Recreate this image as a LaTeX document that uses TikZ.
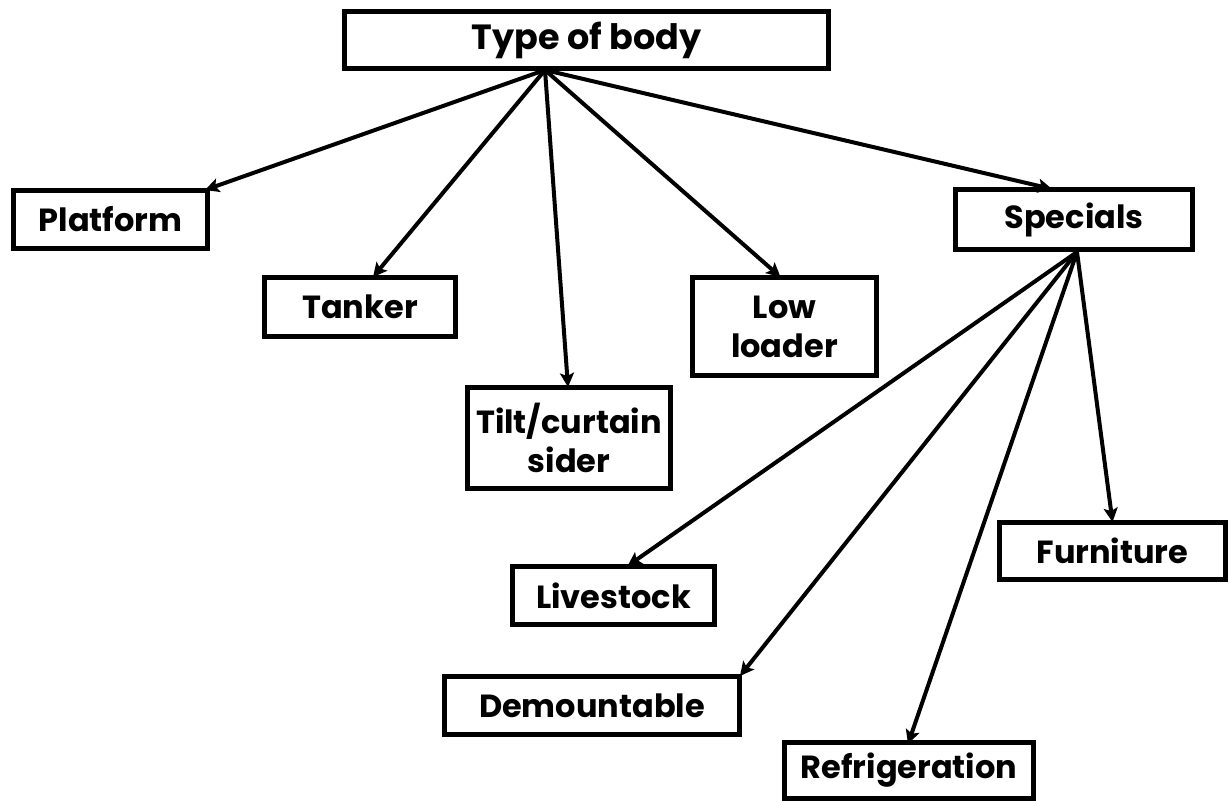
\documentclass[tikz,border=0pt]{standalone}
\usepackage{fontspec}
\setmainfont{Poppins}
\usetikzlibrary{arrows.meta}
\begin{document}
\begin{tikzpicture}[x=1pt,y=-1pt,
  box/.style={draw=black,line width=5pt,fill=white,inner sep=0pt,
    font=\fontsize{32}{39}\selectfont\bfseries,align=center},
  conn/.style={line width=4pt,-{Stealth[length=14pt,width=14pt,inset=3pt]}}]
\useasboundingbox (0,0) rectangle (1230,801);
\node[box,minimum width=484pt,minimum height=57pt,font=\fontsize{35}{40}\selectfont\bfseries] (top) at (586.5,40) {Type of body};
\node[box,minimum width=194pt,minimum height=58pt] (plat) at (110.5,219.5) {Platform};
\node[box,minimum width=191pt,minimum height=59pt] (tank) at (360,307) {Tanker};
\node[box,minimum width=203pt,minimum height=101pt] (tilt) at (569,438) {Tilt/curtain\\sider};
\node[box,minimum width=184pt,minimum height=98pt] (low) at (784.5,326.5) {Low\\loader};
\node[box,minimum width=237pt,minimum height=60pt] (spec) at (1074,219.5) {Specials};
\node[box,minimum width=226pt,minimum height=57pt] (furn) at (1112.5,551) {Furniture};
\node[box,minimum width=202pt,minimum height=58pt] (live) at (613.5,595.5) {Livestock};
\node[box,minimum width=295pt,minimum height=58pt] (demo) at (592,705.5) {Demountable};
\node[box,minimum width=249pt,minimum height=56pt] (refr) at (909,770.5) {Refrigeration};
\coordinate (s1) at (545,70);
\coordinate (s2) at (1077,252);
\draw[conn] (s1) -- ([xshift=-5pt,yshift=-2pt]plat.north east);
\draw[conn] (s1) -- ([xshift=13pt,yshift=-2pt]tank.north);
\draw[conn] (s1) -- ([xshift=-1pt,yshift=-2pt]tilt.north);
\draw[conn] (s1) -- ([xshift=-4pt,yshift=-2pt]low.north);
\draw[conn] (s1) -- ([xshift=-22pt,yshift=-2pt]spec.north);
\draw[conn] (s2) -- ([xshift=14pt,yshift=-2pt]live.north);
\draw[conn] (s2) -- ([xshift=-2pt,yshift=-2pt]demo.north east);
\draw[conn] (s2) -- ([xshift=-1pt,yshift=-4pt]refr.north);
\draw[conn] (s2) -- ([yshift=-2pt]furn.north);
\end{tikzpicture}
\end{document}
